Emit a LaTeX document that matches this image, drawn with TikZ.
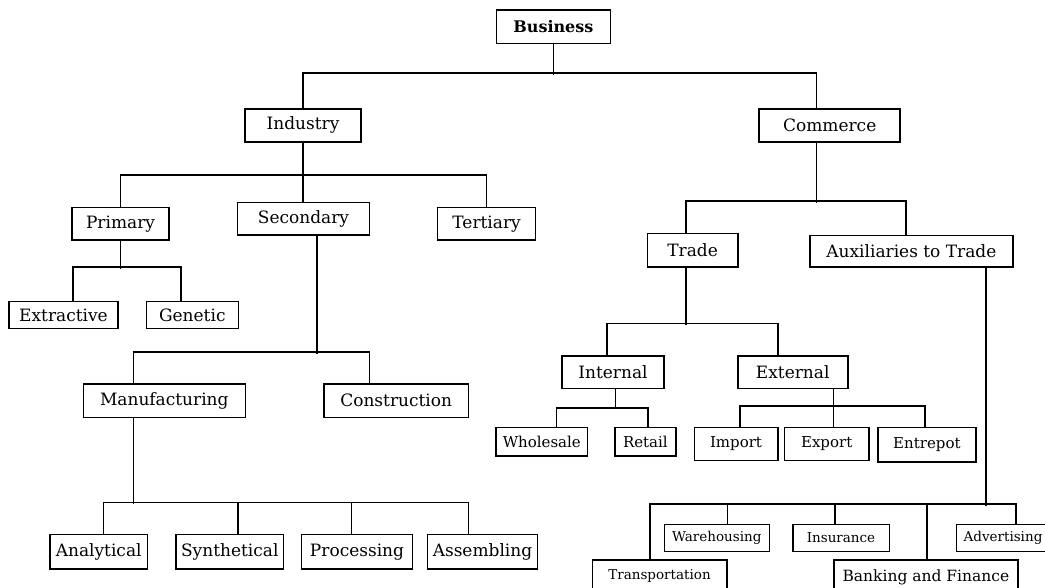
\documentclass[tikz,border=0pt]{standalone}
\usepackage{fontspec}
\setmainfont{DejaVu Serif}
\usepackage{tikz}

\begin{document}
\begin{tikzpicture}[x=1pt, y=-1pt,
   box/.style = {draw, line width=1.6pt, inner sep=0pt, font=\fontsize{17}{20}\selectfont},
   midbox/.style = {box, font=\fontsize{15}{18}\selectfont},
   tinybox/.style = {box, font=\fontsize{13.5}{16}\selectfont},
   link/.style = {line width=1.6pt}]
   \useasboundingbox (0,0) rectangle (1045,587);
   \node[box, font=\bfseries\fontsize{16}{19}\selectfont, minimum width=114pt, minimum height=33.3pt] (business) at (553.4,26.7) {Business};
   \node[box, minimum width=116pt, minimum height=33pt] (industry) at (303,125.2) {Industry};
   \node[box, minimum width=141pt, minimum height=33pt] (commerce) at (829.7,125.2) {Commerce};
   \node[box, minimum width=97pt, minimum height=32.7pt] (primary) at (120.5,223.7) {Primary};
   \node[box, minimum width=132pt, minimum height=32.7pt] (secondary) at (303.5,218.7) {Secondary};
   \node[box, minimum width=98pt, minimum height=32.7pt] (tertiary) at (486.6,223.7) {Tertiary};
   \node[box, minimum width=109pt, minimum height=26.7pt] (extractive) at (63.5,315) {Extractive};
   \node[box, minimum width=92pt, minimum height=26.7pt] (genetic) at (192.3,315) {Genetic};
   \node[box, minimum width=162pt, minimum height=33.3pt] (manufacturing) at (164.3,400.7) {Manufacturing};
   \node[box, minimum width=144.3pt, minimum height=33.3pt] (construction) at (396.2,400.7) {Construction};
   \node[box, minimum width=97.3pt, minimum height=34.7pt] (analytical) at (98.7,551.7) {Analytical};
   \node[box, minimum width=107.7pt, minimum height=34.7pt] (synthetical) at (229.8,551.7) {Synthetical};
   \node[box, minimum width=110.7pt, minimum height=34.7pt] (processing) at (357,551.7) {Processing};
   \node[box, minimum width=110.3pt, minimum height=34.7pt] (assembling) at (482.5,551.7) {Assembling};
   \node[box, minimum width=90.2pt, minimum height=33.7pt] (trade) at (692.6,250.2) {Trade};
   \node[box, minimum width=203.2pt, minimum height=31.7pt] (aux) at (911.4,251.2) {Auxiliaries to Trade};
   \node[box, minimum width=102.5pt, minimum height=32.6pt] (internal) at (613,372) {Internal};
   \node[box, minimum width=110pt, minimum height=32.6pt] (external) at (792.7,372) {External};
   \node[midbox, minimum width=91.2pt, minimum height=28.7pt] (wholesale) at (541.8,441.7) {Wholesale};
   \node[midbox, minimum width=60.7pt, minimum height=28.7pt] (retail) at (645.4,441.7) {Retail};
   \node[midbox, minimum width=83.4pt, minimum height=33pt] (import) at (736,443.8) {Import};
   \node[midbox, minimum width=84.7pt, minimum height=33pt] (export) at (826.7,443.8) {Export};
   \node[midbox, minimum width=98.3pt, minimum height=34.7pt] (entrepot) at (926.9,444.7) {Entrepot};
   \node[tinybox, minimum width=134.4pt, minimum height=32pt] (transport) at (659.5,576) {Transportation};
   \node[tinybox, minimum width=105pt, minimum height=27pt] (warehouse) at (716.8,537.8) {Warehousing};
   \node[tinybox, minimum width=96.6pt, minimum height=27pt] (insurance) at (841,537.8) {Insurance};
   \node[box, font=\fontsize{15.5}{18}\selectfont, minimum width=183.7pt, minimum height=34pt] (banking) at (925.9,577) {Banking and Finance};
   \node[tinybox, minimum width=93pt, minimum height=27pt] (advert) at (1003,537.8) {Advertising};
   \draw[link] (business.south) -- ++(0,30.7);
   \draw[link] (industry.north) -- ++(0,-34.7) -| ([xshift=-13.4pt]commerce.north);
   \draw[link] (primary.north) -- ++(0,-31.6) -| (tertiary.north);
   \draw[link] (industry.south) -- (industry.south |- secondary.north);
   \draw[link] (primary.south) -- ++(0,27.7);
   \draw[link] ([xshift=9.7pt]extractive.north) -- ++(0,-34) -| ([xshift=-11.3pt]genetic.north);
   \draw[link] ([xshift=13.5pt]secondary.south) -- ++(0,117.7);
   \draw[link] ([xshift=-31pt]manufacturing.north) -- ++(0,-31.3) -| ([xshift=-26.9pt]construction.north);
   \draw[link] ([xshift=-31pt]manufacturing.south) -- ++(0,86);
   \draw[link] ([xshift=4.6pt]analytical.north) -- ++(0,-31) -| ([xshift=-14.2pt]assembling.north);
   \draw[link] ([xshift=8.2pt]synthetical.north) -- ++(0,-31);
   \draw[link] ([xshift=-5.7pt]processing.north) -- ++(0,-31);
   \draw[link] ([xshift=-13.4pt]commerce.south) -- ++(0,60.3);
   \draw[link] ([xshift=-6.9pt]trade.north) -- ++(0,-31.3) -| ([xshift=-5.7pt]aux.north);
   \draw[link] ([xshift=-6.9pt]trade.south) -- ++(0,57.3);
   \draw[link] ([xshift=-6.3pt]internal.north) -- ++(0,-31.4) -| ([xshift=-15pt]external.north);
   \draw[link] ([xshift=2.6pt]internal.south) -- ++(0,20.2);
   \draw[link] ([xshift=14.6pt]wholesale.north) -- ++(0,-18.8) -| ([xshift=2.3pt]retail.north);
   \draw[link] ([xshift=40.6pt]external.south) -- ++(0,18.7);
   \draw[link] ([xshift=4pt]import.north) -- ++(0,-20.3) -| ([xshift=-1.9pt]entrepot.north);
   \draw[link] ([xshift=6.6pt]export.north) -- ++(0,-20.3);
   \draw[link] ([xshift=74.6pt]aux.south) -- ++(0,238);
   \draw[link] ([xshift=-9.5pt]transport.north) -- ++(0,-55) -| ([xshift=13pt]advert.north);
   \draw[link] ([xshift=10.5pt]warehouse.north) -- ++(0,-19.3);
   \draw[link] ([xshift=-6pt]insurance.north) -- ++(0,-19.3);
   \draw[link] ([xshift=0.8pt]banking.north) -- ++(0,-55);
\end{tikzpicture}
\end{document}
